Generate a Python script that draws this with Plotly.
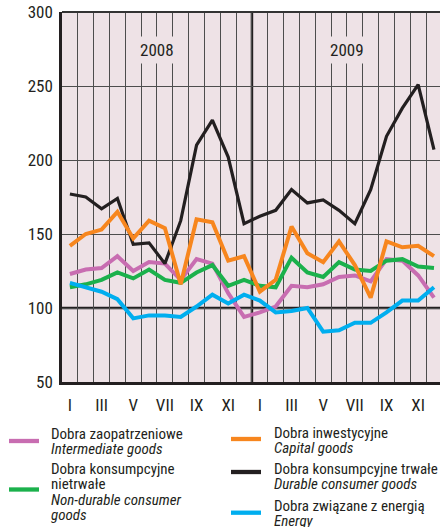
import plotly.graph_objects as go

# ---------------- data ----------------
month_ticks = ["I", "III", "V", "VII", "IX", "XI", "I", "III", "V", "VII", "IX", "XI"]
years = ["2008", "2009"]

intermediate = [123, 126, 127, 135, 125, 131, 130, 119, 133, 130, 110, 94,
                97, 101, 115, 114, 116, 121, 122, 118, 133, 132, 122, 107]
non_durable = [114, 116, 119, 124, 120, 126, 119, 117, 124, 129, 115, 119,
               115, 114, 134, 124, 121, 131, 126, 125, 132, 133, 128, 127]
capital = [142, 150, 153, 165, 147, 159, 154, 116, 160, 158, 132, 135,
           111, 119, 155, 137, 131, 145, 129, 107, 145, 141, 142, 135]
durable = [177, 175, 167, 174, 143, 144, 130, 159, 210, 227, 202, 157,
           162, 166, 180, 171, 173, 166, 157, 180, 216, 235, 251, 207]
energy = [117, 114, 111, 106, 93, 95, 95, 94, 101, 109, 103, 109,
          105, 97, 98, 100, 84, 85, 90, 90, 97, 105, 105, 114]

names_pl = ["Dobra zaopatrzeniowe", "Dobra konsumpcyjne", "nietrwałe", "Dobra inwestycyjne",
            "Dobra konsumpcyjne trwałe", "Dobra związane z energią"]
names_en = ["Intermediate goods", "Non-durable consumer", "goods", "Capital goods",
            "Durable consumer goods", "Energy"]

# ---------------- style ----------------
FONT = "Roboto Condensed, Roboto, Liberation Sans, sans-serif"
TXT = "#231F20"
BG = "#EEE2E6"
GRID = "#4d4d4d"
colors = {"pink": "#C86DB1", "green": "#1BB14C", "orange": "#F7861E",
          "black": "#231F20", "blue": "#00AEEF"}

W, H = 440, 527
L, R, T, B = 62, 0, 12, 145
PW, PH = W - L - R, H - T - B

x = list(range(1, len(intermediate) + 1))

fig = go.Figure()
series = [
    (intermediate, colors["pink"], 4),
    (non_durable, colors["green"], 4),
    (energy, colors["blue"], 4),
    (durable, colors["black"], 3.2),
    (capital, colors["orange"], 4),
]
for vals, c, w in series:
    fig.add_trace(go.Scatter(x=x, y=vals, mode="lines",
                             line=dict(color=c, width=w), showlegend=False,
                             hoverinfo="skip"))

fig.update_layout(
    width=W, height=H,
    margin=dict(l=L, r=R, t=T, b=B),
    paper_bgcolor="white",
    plot_bgcolor=BG,
    font=dict(family=FONT, color=TXT, size=15),
    xaxis=dict(
        range=[0.5, 24.38],
        tickmode="array",
        tickvals=[1, 3, 5, 7, 9, 11, 13, 15, 17, 19, 21, 23],
        ticktext=month_ticks,
        showgrid=False, zeroline=False,
        showline=True, linecolor=TXT, linewidth=2.5,
        ticks="", ticklabelstandoff=6,
        tickfont=dict(size=17, family=FONT, color=TXT),
        minor=dict(tickmode="linear", tick0=0.5, dtick=1, showgrid=True,
                   gridcolor=GRID, gridwidth=1.3, ticks=""),
    ),
    yaxis=dict(
        range=[50, 300],
        tickmode="array",
        tickvals=[50, 100, 150, 200, 250, 300],
        showgrid=True, gridcolor=GRID, gridwidth=1.3,
        zeroline=False,
        showline=True, linecolor=TXT, linewidth=2.5,
        ticks="", ticklabelstandoff=3,
        tickfont=dict(size=17, family=FONT, color=TXT),
    ),
)

# reference 100 line, year boundary and top border
fig.add_shape(type="line", xref="paper", yref="y", x0=0, x1=1, y0=100, y1=100,
              line=dict(color=TXT, width=2.5), layer="between")
fig.add_shape(type="line", xref="x", yref="paper", x0=12.5, x1=12.5, y0=0, y1=1,
              line=dict(color=TXT, width=2.5), layer="between")
fig.add_shape(type="line", xref="paper", yref="paper", x0=0, x1=1, y0=1, y1=1,
              line=dict(color="#333333", width=2), layer="above")

# year labels
for xi, yr in zip([6.5, 18.5], years):
    fig.add_annotation(x=xi, y=274, xref="x", yref="y", text=yr, showarrow=False,
                       font=dict(size=17, family=FONT, color=TXT),
                       bgcolor=BG, borderpad=3)

# ---------------- legend (manual) ----------------
def px_to_paper(px, py):
    return (px - L) / PW, (H - B - py) / PH

legend_items = [
    (colors["pink"], 9, 441, 50, [(names_pl[0], 433.5, False), (names_en[0], 449, True)]),
    (colors["green"], 9, 489.5, 50, [(names_pl[1], 469, False), (names_pl[2], 484.3, False),
                                     (names_en[1], 499.6, True), (names_en[2], 515, True)]),
    (colors["orange"], 231, 439, 273, [(names_pl[3], 433, False), (names_en[3], 448, True)]),
    (colors["black"], 231, 472, 273, [(names_pl[4], 469, False), (names_en[4], 484.3, True)]),
    (colors["blue"], 231, 512.7, 273, [(names_pl[5], 506, False), (names_en[5], 521.3, True)]),
]
for c, sx, sy, tx, lines in legend_items:
    x0, y0 = px_to_paper(sx, sy)
    x1, _ = px_to_paper(sx + 30, sy)
    fig.add_shape(type="line", xref="paper", yref="paper", x0=x0, x1=x1, y0=y0, y1=y0,
                  line=dict(color=c, width=4.3))
    for text, ty, it in lines:
        ax, ay = px_to_paper(tx, ty)
        fig.add_annotation(x=ax, y=ay, xref="paper", yref="paper",
                           text=f"<i>{text}</i>" if it else text,
                           showarrow=False, xanchor="left", yanchor="middle",
                           font=dict(size=15, family=FONT, color=TXT), borderpad=0)

fig.write_html("out.html", config={"displayModeBar": False},
               post_script="document.body.style.margin='0px';document.body.style.overflow='hidden';")
